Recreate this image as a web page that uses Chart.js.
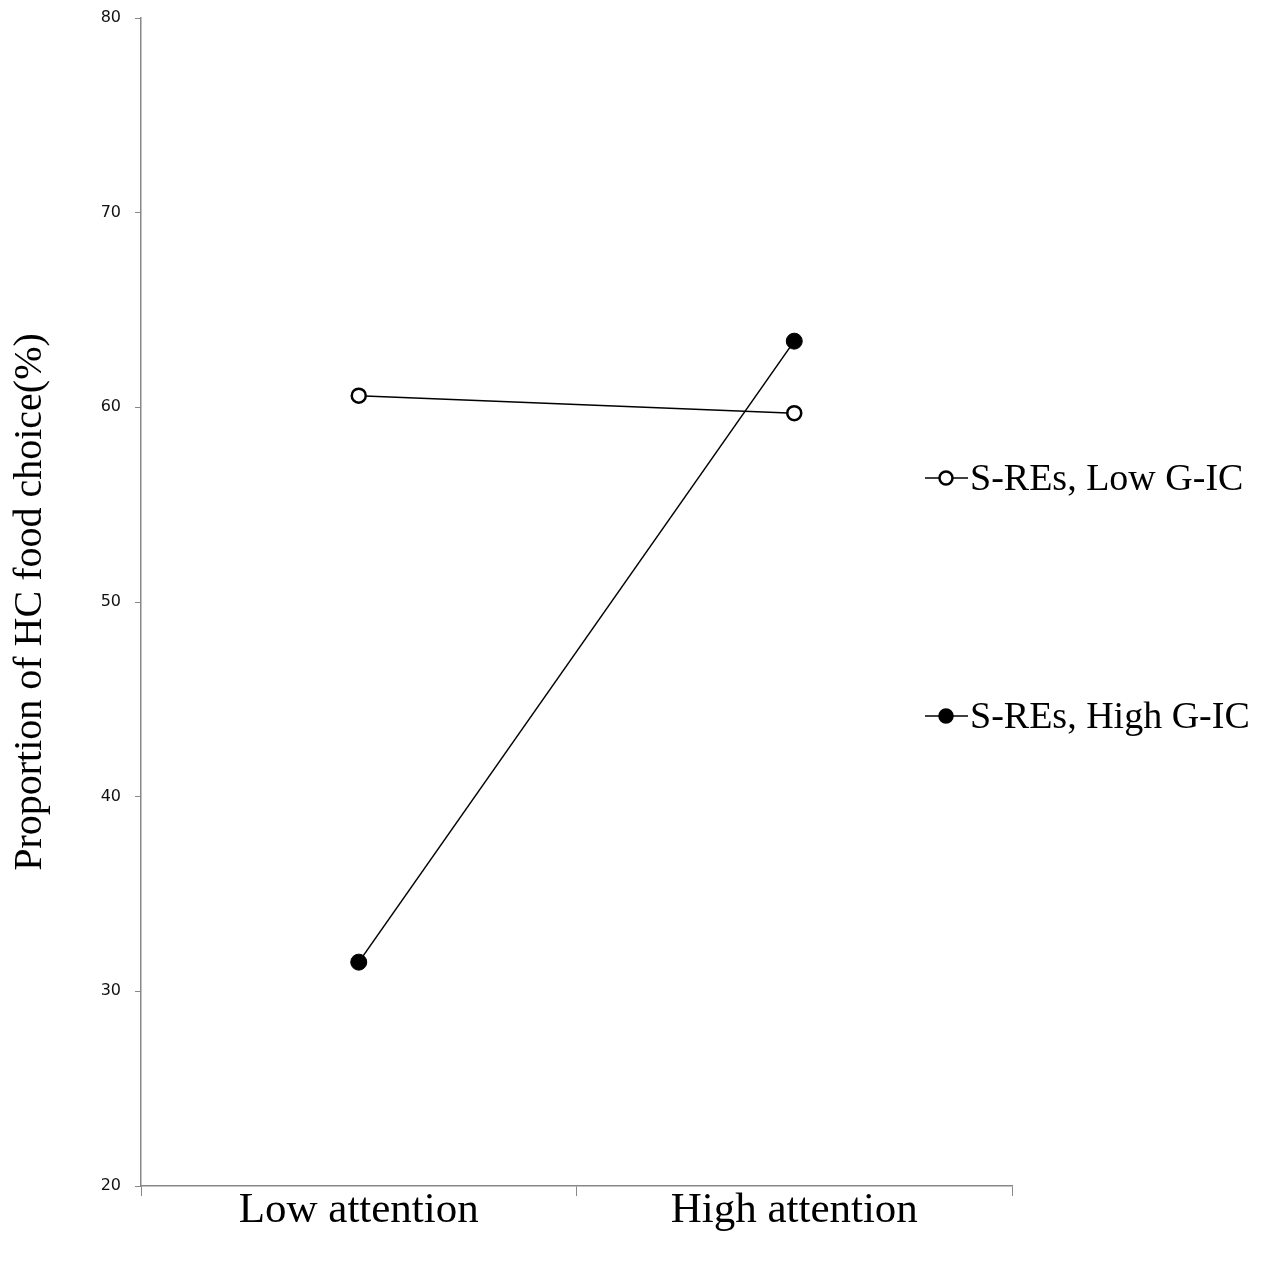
<!DOCTYPE html>
<html>
<head>
<meta charset="utf-8">
<script src="https://cdn.jsdelivr.net/npm/chart.js@4.4.1/dist/chart.umd.min.js"></script>
<style>
  html, body { margin: 0; padding: 0; background: #fff; }
  #wrap { width: 1267px; height: 1267px; }
</style>
</head>
<body>
<div id="wrap"><canvas id="myChart" width="1267" height="1267"></canvas></div>
<script>
const categories = ['Low attention', 'High attention'];
const lowGIC = [60.6, 59.7];
const highGIC = [31.5, 63.4];
const seriesLabels = ['S-REs, Low G-IC', 'S-REs, High G-IC'];
const yTitle = 'Proportion of HC food choice(%)';

// legend drawn at the right of the plot, one row per dataset
const sideLegend = {
    id: 'sideLegend',
    afterDraw(chart) {
        const ctx = chart.ctx;
        const rows = [478, 716];
        ctx.save();
        chart.data.datasets.forEach((ds, i) => {
            const y = rows[i];
            ctx.strokeStyle = '#000';
            ctx.lineWidth = 1.5;
            ctx.beginPath();
            ctx.moveTo(925, y);
            ctx.lineTo(968, y);
            ctx.stroke();
            ctx.beginPath();
            ctx.arc(946, y, 6.5, 0, Math.PI * 2);
            ctx.fillStyle = ds.pointBackgroundColor;
            ctx.fill();
            ctx.lineWidth = 2.5;
            ctx.stroke();
            ctx.fillStyle = '#000';
            ctx.font = '38px "Liberation Serif", "Times New Roman", serif';
            ctx.textBaseline = 'middle';
            ctx.textAlign = 'left';
            ctx.fillText(ds.label, 970, y + 2);
        });
        ctx.restore();
    }
};

const ctx = document.getElementById('myChart').getContext('2d');
const myChart = new Chart(ctx, {
    type: 'line',
    data: {
        labels: categories,
        datasets: [
            {
                label: seriesLabels[0],
                data: lowGIC,
                borderColor: '#000',
                borderWidth: 1.5,
                pointStyle: 'circle',
                pointRadius: 7,
                pointBorderWidth: 2.5,
                pointBackgroundColor: '#fff',
                pointBorderColor: '#000',
                fill: false
            },
            {
                label: seriesLabels[1],
                data: highGIC,
                borderColor: '#000',
                borderWidth: 1.5,
                pointStyle: 'circle',
                pointRadius: 8,
                pointBorderWidth: 1,
                pointBackgroundColor: '#000',
                pointBorderColor: '#000',
                fill: false
            }
        ]
    },
    options: {
        responsive: false,
        animation: false,
        devicePixelRatio: 1,
        layout: {
            padding: { top: 18, right: 255, left: 0, bottom: 0 }
        },
        plugins: {
            legend: { display: false },
            tooltip: { enabled: false }
        },
        scales: {
            x: {
                offset: true,
                grid: {
                    offset: true,
                    drawOnChartArea: false,
                    drawTicks: true,
                    tickLength: 10,
                    color: '#888'
                },
                border: { display: true, color: '#888', width: 1.5 },
                ticks: {
                    color: '#000',
                    padding: -11,
                    font: { family: '"Liberation Serif", "Times New Roman", serif', size: 43 }
                },
                afterFit(scale) { scale.height = 81; }
            },
            y: {
                min: 20,
                max: 80,
                ticks: {
                    stepSize: 10,
                    color: '#111',
                    padding: 14,
                    font: { family: '"DejaVu Sans", Verdana, sans-serif', size: 16 }
                },
                grid: {
                    drawOnChartArea: false,
                    drawTicks: true,
                    tickLength: 6,
                    color: '#888'
                },
                border: { display: true, color: '#888', width: 1.5 },
                title: {
                    display: true,
                    text: yTitle,
                    color: '#000',
                    padding: { top: 6, bottom: 0 },
                    font: { family: '"Liberation Serif", "Times New Roman", serif', size: 40 }
                },
                afterFit(scale) {
                    scale.width = 141;
                    scale.paddingTop = 0;
                    scale.paddingBottom = 0;
                }
            }
        }
    },
    plugins: [sideLegend]
});
</script>
</body>
</html>
